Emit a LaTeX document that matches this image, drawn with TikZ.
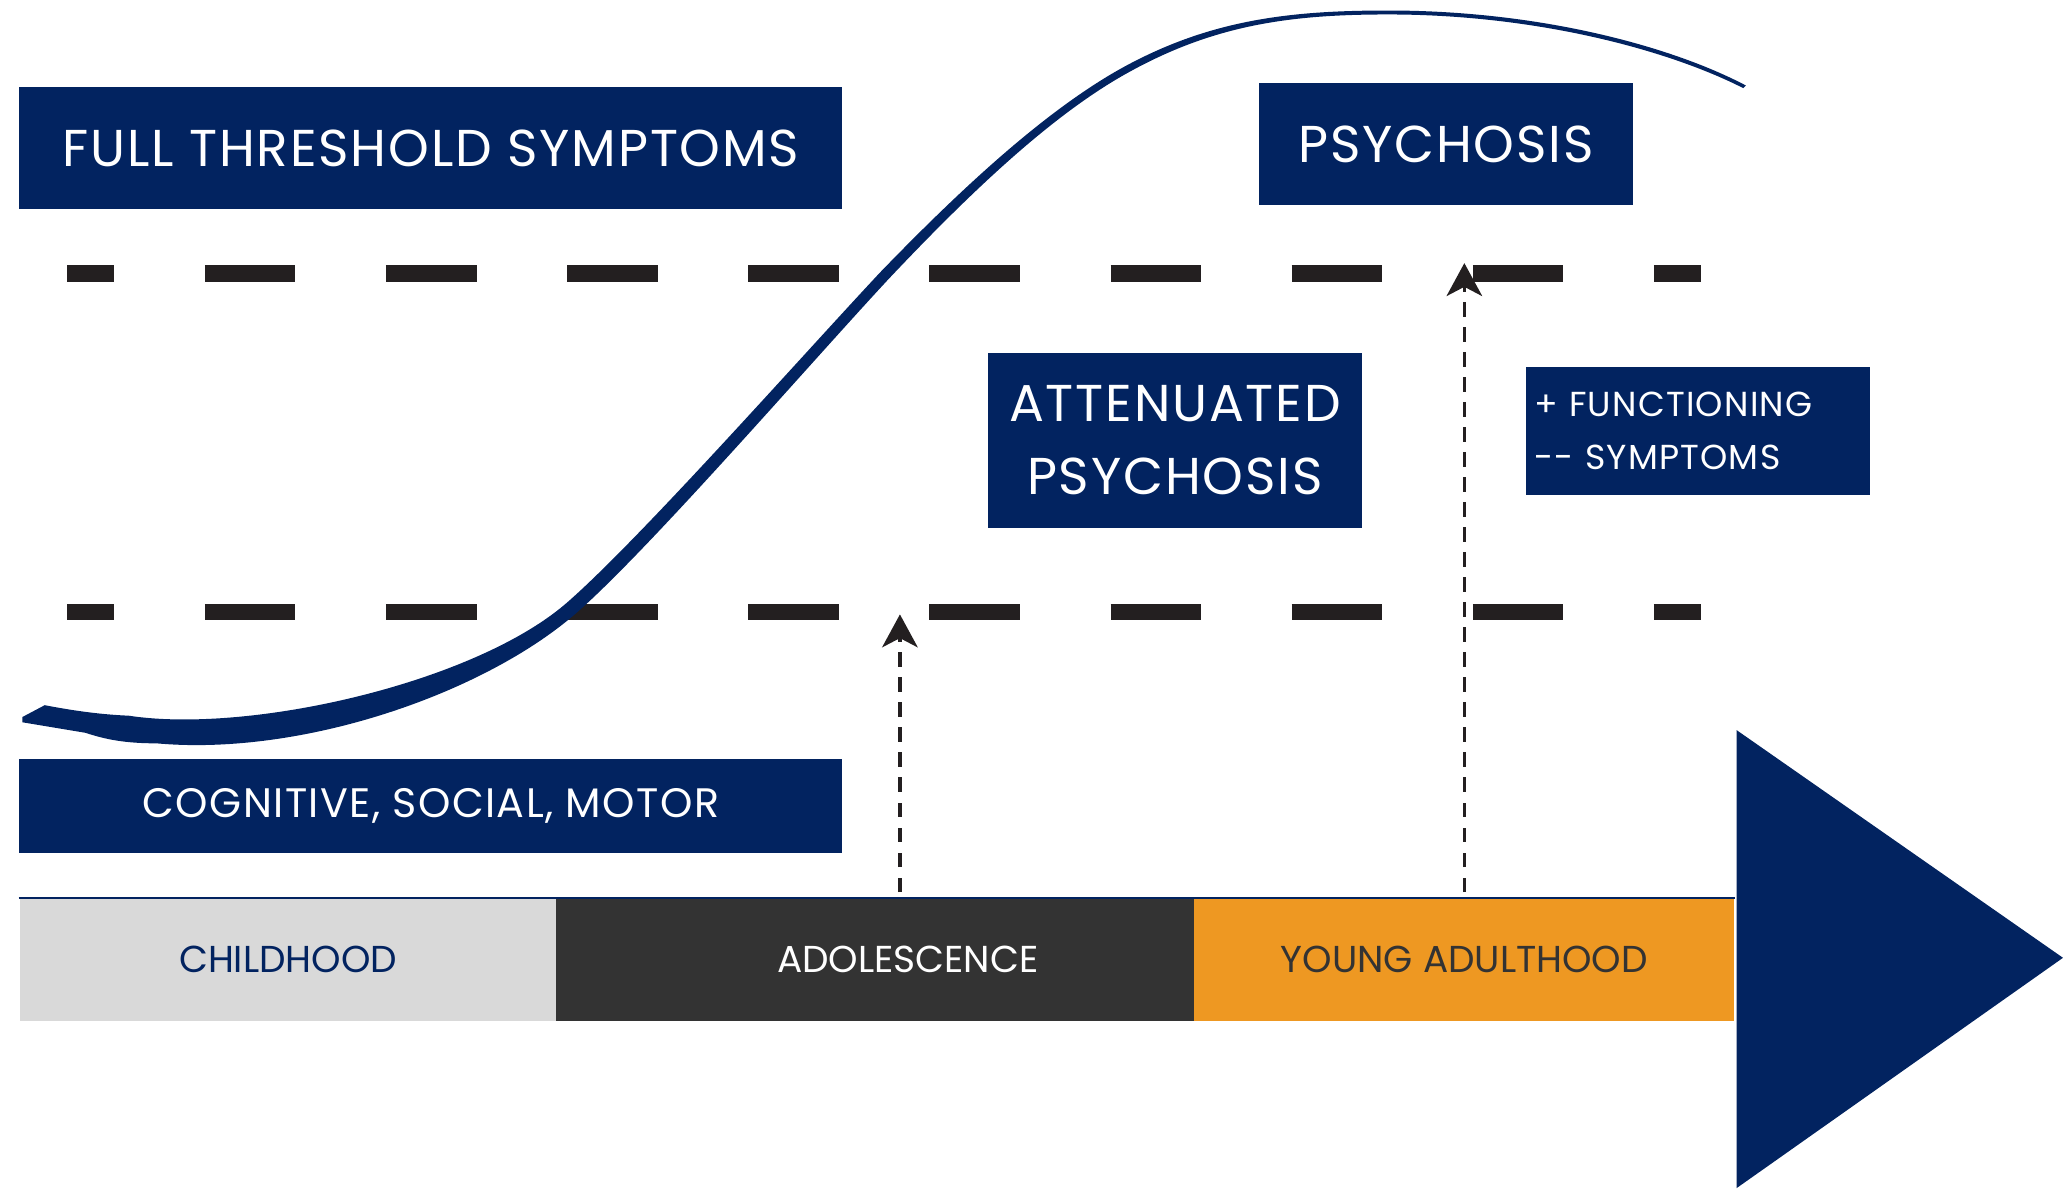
\documentclass[tikz,border=0pt]{standalone}
\usepackage{fontspec}
\setmainfont{Poppins}
\usetikzlibrary{arrows.meta}

\definecolor{navy}{RGB}{2,35,96}
\definecolor{dashgrey}{RGB}{35,31,32}
\definecolor{childgrey}{RGB}{217,217,217}
\definecolor{adolgrey}{RGB}{51,51,51}
\definecolor{youngorange}{RGB}{238,152,34}

\tikzset{
	box/.style={fill=navy, text=white, inner sep=0pt, font=\fontsize{11.2}{15.9}\selectfont\addfontfeatures{LetterSpace=3.5}},
	bar/.style={inner sep=0pt, minimum height=0.93cm, font=\fontsize{8.1}{10}\selectfont},
	thresholdline/.style={line width=0.125cm, dash pattern=on 0.688cm off 0.688cm, dash phase=0.33cm, dashgrey},
	risearrow/.style={line width=0.7pt, dash pattern=on 0.11cm off 0.08cm, -{Stealth[length=0.25cm,width=0.27cm,inset=0.07cm]}, dashgrey},
}

\begin{document}
\begin{tikzpicture}[x=0.01cm, y=-0.01cm]
		\def \upper{ 208 };
		\def \lower{ 465 };
		\useasboundingbox (0,0) rectangle (1568,904);
		\node[box, minimum width=6.25cm, minimum height=0.93cm] (full) at (327.5,112.5) {FULL THRESHOLD SYMPTOMS};
		\node[box, minimum width=2.84cm, minimum height=0.93cm] (psych) at (1099,109.5) {PSYCHOSIS};
		\node[box, minimum width=2.84cm, minimum height=1.33cm, align=center] (atten) at (893,334.5) {ATTENUATED\\PSYCHOSIS};
		\node[box, text width=2.49cm, inner xsep=0.06cm, minimum height=0.97cm, align=left, font=\fontsize{7.5}{11.4}\selectfont\addfontfeatures{LetterSpace=3.5}] (func) at (1290.5,327.5) {+ FUNCTIONING\\-{}- SYMPTOMS};
		\node[box, minimum width=6.25cm, minimum height=0.71cm, font=\fontsize{8.9}{10}\selectfont\addfontfeatures{LetterSpace=3.5}] (cog) at (327.5,612.5) {COGNITIVE, SOCIAL, MOTOR};
		\draw[thresholdline] (51,\upper) -- (1293,\upper);
		\draw[thresholdline] (51,\lower) -- (1293,\lower);
		\fill[navy] (17,545) -- (34,536) .. controls (55,540) and (75,543) .. (98,544)
			.. controls (190,558) and (361,519) .. (431,458)
			.. controls (486,410) and (610,270) .. (669,207)
			.. controls (729,145) and (794,84) .. (854,51)
			.. controls (920,15) and (980,8) .. (1055,8)
			.. controls (1170,8) and (1270,35) .. (1327,65)
			-- (1325,67)
			.. controls (1268,38) and (1168,11) .. (1055,11)
			.. controls (980,11) and (922,19) .. (856,56)
			.. controls (797,89) and (734,150) .. (675,212.5)
			.. controls (616,276) and (493,418) .. (438,466)
			.. controls (368,527) and (230,575) .. (119,565)
			.. controls (95,565) and (80,562) .. (65,557)
			-- (17,549) -- cycle;
		\node[bar, fill=childgrey, minimum width=4.08cm, text=navy] (child) at (219,729.5) {CHILDHOOD};
		\node[bar, fill=adolgrey, minimum width=4.85cm] (adol) at (665.5,729.5) {};
		\node[bar, text=white] (adoltext) at (690,729.5) {ADOLESCENCE};
		\node[bar, fill=youngorange, minimum width=4.10cm, text=adolgrey] (young) at (1113,729.5) {YOUNG ADULTHOOD};
		\draw[navy, line width=0.015cm] (child.north west) -- (young.north east);
		\fill[navy] (1320,555) -- (1568,728) -- (1320,903) -- cycle;
		\coordinate (adolstart) at (684,678);
		\coordinate (adolend) at (684,467);
		\coordinate (youngstart) at (1113,678);
		\coordinate (youngend) at (1113,200);
		\draw[risearrow] (adolstart) -- (adolend);
		\draw[risearrow] (youngstart) -- (youngend);
	\end{tikzpicture}
\end{document}
